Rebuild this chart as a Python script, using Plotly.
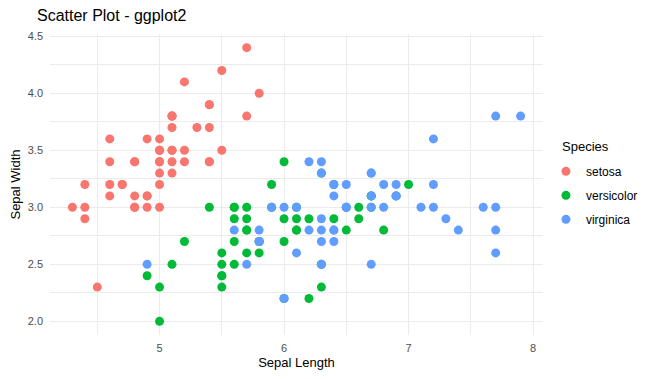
import plotly.graph_objects as go

species = ["setosa", "versicolor", "virginica"]
colors = ["#F8766D", "#00BA38", "#619CFF"]

setosa_length = [5.1,4.9,4.7,4.6,5.0,5.4,4.6,5.0,4.4,4.9,5.4,4.8,4.8,4.3,5.8,5.7,5.4,5.1,5.7,5.1,
                 5.4,5.1,4.6,5.1,4.8,5.0,5.0,5.2,5.2,4.7,4.8,5.4,5.2,5.5,4.9,5.0,5.5,4.9,4.4,5.1,
                 5.0,4.5,4.4,5.0,5.1,4.8,5.1,4.6,5.3,5.0]
setosa_width = [3.5,3.0,3.2,3.1,3.6,3.9,3.4,3.4,2.9,3.1,3.7,3.4,3.0,3.0,4.0,4.4,3.9,3.5,3.8,3.8,
                3.4,3.7,3.6,3.3,3.4,3.0,3.4,3.5,3.4,3.2,3.1,3.4,4.1,4.2,3.1,3.2,3.5,3.6,3.0,3.4,
                3.5,2.3,3.2,3.5,3.8,3.0,3.8,3.2,3.7,3.3]

versicolor_length = [7.0,6.4,6.9,5.5,6.5,5.7,6.3,4.9,6.6,5.2,5.0,5.9,6.0,6.1,5.6,6.7,5.6,5.8,6.2,5.6,
                     5.9,6.1,6.3,6.1,6.4,6.6,6.8,6.7,6.0,5.7,5.5,5.5,5.8,6.0,5.4,6.0,6.7,6.3,5.6,5.5,
                     5.5,6.1,5.8,5.0,5.6,5.7,5.7,6.2,5.1,5.7]
versicolor_width = [3.2,3.2,3.1,2.3,2.8,2.8,3.3,2.4,2.9,2.7,2.0,3.0,2.2,2.9,2.9,3.1,3.0,2.7,2.2,2.5,
                    3.2,2.8,2.5,2.8,2.9,3.0,2.8,3.0,2.9,2.6,2.4,2.4,2.7,2.7,3.0,3.4,3.1,2.3,3.0,2.5,
                    2.6,3.0,2.6,2.3,2.7,3.0,2.9,2.9,2.5,2.8]

virginica_length = [6.3,5.8,7.1,6.3,6.5,7.6,4.9,7.3,6.7,7.2,6.5,6.4,6.8,5.7,5.8,6.4,6.5,7.7,7.7,6.0,
                    6.9,5.6,7.7,6.3,6.7,7.2,6.2,6.1,6.4,7.2,7.4,7.9,6.4,6.3,6.1,7.7,6.3,6.4,6.0,6.9,
                    6.7,6.9,5.8,6.8,6.7,6.7,6.3,6.5,6.2,5.9]
virginica_width = [3.3,2.7,3.0,2.9,3.0,3.0,2.5,2.9,2.5,3.6,3.2,2.7,3.0,2.5,2.8,3.2,3.0,3.8,2.6,2.2,
                   3.2,2.8,2.8,2.7,3.3,3.2,2.8,3.0,2.8,3.0,2.8,3.8,2.8,2.8,2.6,3.0,3.4,3.1,3.0,3.1,
                   3.1,3.1,2.7,3.2,3.3,3.0,2.5,3.0,3.4,3.0]

x_ticks = [5, 6, 7, 8]
y_ticks = [2.0, 2.5, 3.0, 3.5, 4.0, 4.5]
y_tick_labels = ["2.0", "2.5", "3.0", "3.5", "4.0", "4.5"]

xs = [setosa_length, versicolor_length, virginica_length]
ys = [setosa_width, versicolor_width, virginica_width]

FONT = "Liberation Sans, Arial, sans-serif"
OFF = 8  # page body margin offset

fig = go.Figure()
for name, col, x, y in zip(species, colors, xs, ys):
    fig.add_trace(go.Scatter(
        x=x, y=y, mode="markers", name=name, legendgroup=name,
        marker=dict(color=col, size=9, line=dict(width=0)),
    ))

grid = "#EBEBEB"
fig.update_layout(
    width=660, height=379,
    margin=dict(l=50 - OFF, r=117 + OFF, t=34 - OFF, b=44 + OFF, autoexpand=False),
    paper_bgcolor="white", plot_bgcolor="white",
    font=dict(family=FONT, color="#000000"),
    title=dict(text="Scatter Plot - ggplot2", x=(37 - OFF) / 660, xanchor="left",
               y=1 - (15 - OFF) / 379, yanchor="middle",
               font=dict(size=16, color="black", family=FONT)),
    xaxis=dict(
        range=[4.12, 8.08], tickvals=x_ticks, ticktext=[str(v) for v in x_ticks],
        showgrid=True, gridcolor=grid, gridwidth=1, zeroline=False, showline=False,
        ticks="", tickfont=dict(size=11, color="#4D4D4D"), ticklabelstandoff=5,
        automargin=False,
        minor=dict(dtick=0.5, tick0=4.5, showgrid=True, gridcolor=grid, gridwidth=1, ticks=""),
        title=dict(text="Sepal Length", font=dict(size=13, color="black"), standoff=4),
    ),
    yaxis=dict(
        range=[1.88, 4.52], tickvals=y_ticks, ticktext=y_tick_labels,
        showgrid=True, gridcolor=grid, gridwidth=1, zeroline=False, showline=False,
        ticks="", tickfont=dict(size=11, color="#4D4D4D"), ticklabelstandoff=6,
        automargin=False,
        minor=dict(dtick=0.25, tick0=2.25, showgrid=True, gridcolor=grid, gridwidth=1, ticks=""),
        title=dict(text="Sepal Width", font=dict(size=13, color="black"), standoff=4),
    ),
    legend=dict(
        x=1.006, xanchor="left", y=0.592, yanchor="top",
        font=dict(size=12, color="black"),
        tracegroupgap=5, bgcolor="rgba(0,0,0,0)",
    ),
    annotations=[dict(
        text="Species", xref="paper", yref="paper", x=1.0345, y=0.6246,
        xanchor="left", yanchor="middle", showarrow=False,
        font=dict(size=13, color="black", family=FONT),
    )],
    showlegend=True,
)

fig.write_html("out.html")
